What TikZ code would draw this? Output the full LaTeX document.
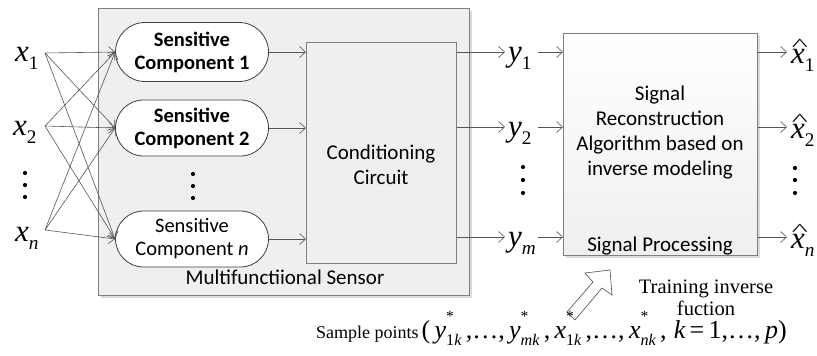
\documentclass[tikz,border=0pt]{standalone}
\usepackage{graphicx}
\usepackage{fontspec}
\setmainfont{Liberation Serif}
\newfontfamily\tms{Liberation Serif}
\newfontfamily\calib{Carlito}
\newcommand\iv[1]{{\tms\itshape #1}}
\newcommand\sbs[3]{\iv{#1}\makebox[0pt][l]{\raisebox{0.62em}{\scalebox{0.6}{#2}}}\raisebox{-0.28em}{\scalebox{0.62}{#3}}}
\newcommand\hatx{\ooalign{\iv{x}\cr\hidewidth\kern0.12em\raisebox{0.4em}{\scalebox{1.1}[0.55]{\tms\^{}}}\hidewidth\cr}}
\usetikzlibrary{arrows.meta,shapes.misc,shadows}
\definecolor{boxgray}{HTML}{EFEFEF}
\definecolor{linegray}{HTML}{555555}
\definecolor{edgegray}{HTML}{7F7F7F}
\tikzset{
  conn/.style={draw=linegray,line width=0.6pt,-{Straight Barb[length=6pt,width=11pt,line width=0.6pt]}},
  comp/.style={rounded rectangle,draw=black!75,line width=0.8pt,fill=white,minimum width=153pt,inner sep=0pt,align=center,font=\calib\fontsize{20.5}{23}\selectfont},
  bigbox/.style={draw=edgegray,line width=0.8pt,fill=boxgray},
  softshadow/.style={drop shadow={shadow xshift=2.5pt,shadow yshift=-2.5pt,opacity=0.14,fill=black}},
  boxtext/.style={font=\calib\fontsize{21}{25}\selectfont,align=center,inner sep=0pt},
  mlab/.style={inner sep=0pt,anchor=base west,font=\tms\fontsize{31}{32}\selectfont}
}
\begin{document}
\begin{tikzpicture}[x=1pt,y=-1pt]
\useasboundingbox (0,0) rectangle (817,356);
% sensor box
\node[bigbox,softshadow,minimum width=371pt,minimum height=287pt,inner sep=0pt,anchor=north west] (sensor) at (98,8) {};
\node[boxtext] (senslab) at (285,277) {Multifunctiional Sensor};
% conditioning circuit
\node[bigbox,minimum width=150pt,minimum height=221pt,inner sep=0pt,anchor=north west] (cond) at (306,42) {};
\node[boxtext] (condlab) at (381,165) {Conditioning\\Circuit};
% components
\node[comp,minimum height=59pt] (c1) at (192,52) {\textbf{Sensitive}\\\textbf{Component 1}};
\node[comp,minimum height=56pt] (c2) at (192,128) {\textbf{Sensitive}\\\textbf{Component 2}};
\node[comp,minimum height=56pt] (cn) at (192,239) {Sensitive\\Component \textit{n}};
\foreach \yy in {174,186,198} \fill (193,\yy) circle (2.1pt);
% signal box
\node[draw=edgegray,line width=0.8pt,softshadow,top color=white,bottom color=boxgray,minimum width=194pt,minimum height=222pt,inner sep=0pt,anchor=north west] (sig) at (563,33) {};
\node[boxtext] (siglab) at (660,133) {Signal\\Reconstruction\\Algorithm based on\\inverse modeling};
\node[boxtext] (sigproc) at (660,246) {Signal Processing};
% inputs
\node[mlab] (x1) at (15,61) {\sbs{x}{}{1}};
\node[mlab] (x2) at (13,135) {\sbs{x}{}{2}};
\node[mlab] (xn) at (15,241) {\sbs{x}{}{\iv{n}}};
\foreach \yy in {173,185,197} \fill (25,\yy) circle (2.1pt);
\coordinate (s1) at (45,53);
\coordinate (s2) at (45,126);
\coordinate (sn) at (45,230);
\foreach \s in {s1,s2,sn}
  \foreach \t in {c1,c2,cn}
    \draw[conn] (\s) -- (\t.west);
% components to conditioning
\foreach \t in {c1,c2,cn}
  \draw[conn] (\t.east) -- (\t.east -| cond.west);
% y outputs
\node[mlab] (y1) at (508,61) {\sbs{y}{}{1}};
\node[mlab] (y2) at (508,136) {\sbs{y}{}{2}};
\node[mlab] (ym) at (508,246) {\sbs{y}{}{\iv{m}}};
\foreach \yy in {167,180,193} \fill (523,\yy) circle (2.1pt);
\coordinate (o1) at (505,52);
\coordinate (o2) at (505,127);
\coordinate (om) at (505,237);
\draw[conn] (cond.east |- o1) -- (o1);
\draw[conn] (cond.east |- o2) -- (o2);
\draw[conn] (cond.east |- om) -- (om);
\draw[conn] (538,52) -- (sig.west |- o1);
\draw[conn] (538,127) -- (sig.west |- o2);
\draw[conn] (538,237) -- (sig.west |- om);
% outputs
\coordinate (e1) at (787,52);
\coordinate (e2) at (787,127);
\coordinate (en) at (787,237);
\draw[conn] (sig.east |- e1) -- (e1);
\draw[conn] (sig.east |- e2) -- (e2);
\draw[conn] (sig.east |- en) -- (en);
\node[mlab] (xh1) at (791,63) {\hatx\raisebox{-0.28em}{\scalebox{0.62}{1}}};
\node[mlab] (xh2) at (791,138) {\hatx\raisebox{-0.28em}{\scalebox{0.62}{2}}};
\node[mlab] (xhn) at (791,248) {\hatx\raisebox{-0.28em}{\scalebox{0.62}{\iv{n}}}};
\foreach \yy in {168,180,193} \fill (795,\yy) circle (2.1pt);
% training arrow
\draw[draw=black!70,fill=white,line width=0.6pt] (567,312) -- (593,282) -- (585,273) -- (610,270) -- (612,295) -- (602,288) -- (575,320) -- cycle;
\node[font=\tms\fontsize{20.5}{22}\selectfont,align=center,inner sep=0pt] (train) at (706,298) {Training inverse\\fuction};
\node[font=\tms\fontsize{18}{20}\selectfont,inner sep=0pt,anchor=base west] (sample) at (316,338) {Sample points\,{\fontsize{26}{27}\selectfont(\,\sbs{y}{*}{1\iv{k}}\,,…,\,\sbs{y}{*}{\iv{mk}}\,,\,\sbs{x}{*}{1\iv{k}}\,,…,\,\sbs{x}{*}{\iv{nk}}\,,\;\iv{k}\,=\,1,…,\,\iv{p})}};
\end{tikzpicture}
\end{document}
